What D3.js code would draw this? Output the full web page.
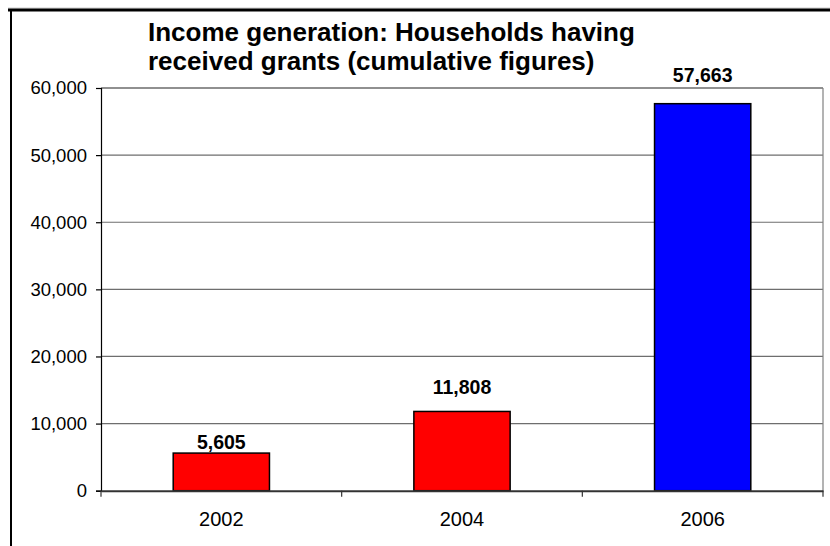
<!DOCTYPE html>
<html><head><meta charset="utf-8">
<script src="https://cdn.jsdelivr.net/npm/d3@7"></script>
<style>html,body{margin:0;padding:0;background:#fff;}svg{display:block;}</style>
</head><body>
<svg id="c" width="830" height="546"></svg>
<script>
const categories = ["2002", "2004", "2006"];
const values = [5605, 11808, 57663];
const barColors = ["#ff0000", "#ff0000", "#0000ff"];
const yTicks = [0, 10000, 20000, 30000, 40000, 50000, 60000];
const titleLines = ["Income generation: Households having", "received grants (cumulative figures)"];
// layout: gap between bar top and its value label baseline (as placed in the original)
const labelGap = [4, 17, 22];

const svg = d3.select("#c");
const font = "'Liberation Sans', Arial, sans-serif";
const m = {left: 101, right: 823, top: 88, bottom: 490.7};

// outer frame
svg.append("line").attr("x1", 8).attr("x2", 830).attr("y1", 8).attr("y2", 8).attr("stroke", "#ccc").attr("stroke-width", 1);
svg.append("line").attr("x1", 8).attr("x2", 830).attr("y1", 10).attr("y2", 10).attr("stroke", "#000").attr("stroke-width", 3);
svg.append("line").attr("x1", 11).attr("x2", 11).attr("y1", 9).attr("y2", 546).attr("stroke", "#000").attr("stroke-width", 2);

const x = d3.scaleBand().domain(categories).range([m.left, m.right]).paddingInner(0.6).paddingOuter(0.3);
const xb = d3.scaleBand().domain(categories).range([m.left, m.right]);
const y = d3.scaleLinear().domain([0, 60000]).range([m.bottom, m.top]);

// gridlines
svg.append("g").selectAll("line").data(yTicks.filter(d => d > 0)).join("line")
  .attr("x1", m.left).attr("x2", m.right)
  .attr("y1", d => y(d)).attr("y2", d => y(d))
  .attr("stroke", d => d === 60000 ? "#222" : "#6e6e6e").attr("stroke-width", 1.2);
// plot right border
svg.append("line").attr("x1", m.right).attr("x2", m.right).attr("y1", m.top).attr("y2", m.bottom)
  .attr("stroke", "#808080").attr("stroke-width", 1.2);

// bars
svg.append("g").selectAll("rect").data(values).join("rect")
  .attr("x", (d, i) => x(categories[i]))
  .attr("width", x.bandwidth())
  .attr("y", d => y(d))
  .attr("height", d => y(0) - y(d))
  .attr("fill", (d, i) => barColors[i])
  .attr("stroke", "#000").attr("stroke-width", 1.5);

// bar labels
svg.append("g").selectAll("text").data(values).join("text")
  .attr("x", (d, i) => x(categories[i]) + x.bandwidth() / 2)
  .attr("y", (d, i) => y(d) - labelGap[i])
  .attr("text-anchor", "middle")
  .attr("font-family", font).attr("font-size", 19.5).attr("font-weight", "bold")
  .text(d => d3.format(",")(d));

// y axis
const yAxis = svg.append("g").attr("transform", `translate(${m.left},0)`)
  .call(d3.axisLeft(y).tickValues(yTicks).tickFormat(d3.format(",")).tickSize(5).tickPadding(9));
yAxis.select(".domain").attr("stroke", "#000").attr("stroke-width", 1.2);
yAxis.selectAll(".tick line").attr("stroke", "#000").attr("stroke-width", 1.2);
yAxis.selectAll("text").attr("font-family", font).attr("font-size", 18.5).attr("fill", "#000");

// x axis
const xAxis = svg.append("g").attr("transform", `translate(0,${m.bottom})`)
  .call(d3.axisBottom(xb).tickSize(0).tickPadding(21));
xAxis.select(".domain").attr("stroke", "#333").attr("stroke-width", 2);
xAxis.selectAll("text").attr("font-family", font).attr("font-size", 20).attr("fill", "#000");
// category boundary ticks
const bounds = categories.map(c => xb(c)).concat([m.right]);
svg.append("g").selectAll("line").data(bounds).join("line")
  .attr("x1", d => d).attr("x2", d => d)
  .attr("y1", m.bottom).attr("y2", m.bottom + 6)
  .attr("stroke", "#333").attr("stroke-width", 1.2);

// title
svg.append("g").selectAll("text").data(titleLines).join("text")
  .attr("x", 148).attr("y", (d, i) => 41 + i * 29)
  .attr("font-family", font).attr("font-size", 26).attr("font-weight", "bold")
  .text(d => d);
</script>
</body></html>
